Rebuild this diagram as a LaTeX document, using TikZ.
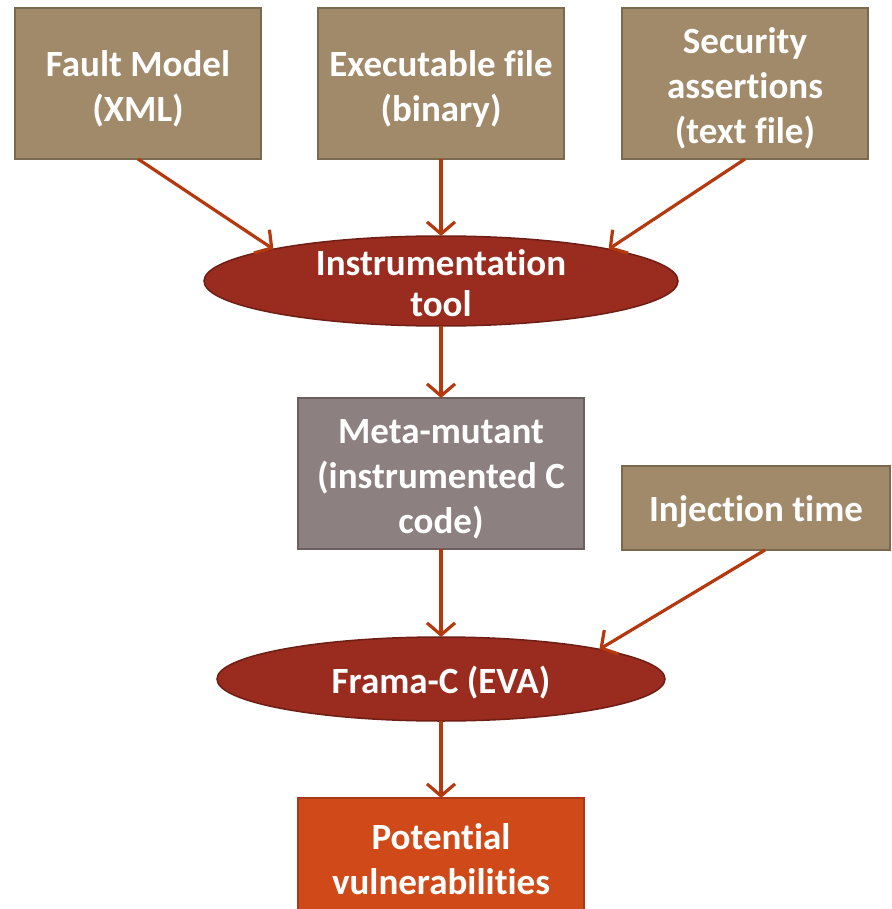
\documentclass[tikz,border=0pt]{standalone}
\usepackage{fontspec}
\setmainfont[Ligatures={NoCommon}]{Carlito}
\usetikzlibrary{arrows.meta,shapes.geometric}
\definecolor{tanfill}{HTML}{A08A69}
\definecolor{tanline}{HTML}{7A6A50}
\definecolor{redfill}{HTML}{9A2B1F}
\definecolor{redline}{HTML}{6E1E14}
\definecolor{greyfill}{HTML}{8C8080}
\definecolor{greyline}{HTML}{6B5F5F}
\definecolor{orfill}{HTML}{D04A19}
\definecolor{orline}{HTML}{A8391A}
\definecolor{arrowc}{HTML}{B5390F}
\tikzset{
  shp/.style={inner sep=0pt, outer sep=0pt, line width=1.5pt},
  lbl/.style={text=white, font=\fontsize{37}{45}\bfseries\selectfont, align=center, inner sep=0pt},
  tanbox/.style={shp, rectangle, fill=tanfill, draw=tanline, minimum width=246pt, minimum height=151pt},
  ellbox/.style={shp, ellipse, fill=redfill, draw=redline},
  conn/.style={draw=arrowc, line width=3.2pt, -{Straight Barb[length=12pt,width=28pt,line width=3.2pt]}}
}
\begin{document}
\begin{tikzpicture}[x=1pt,y=-1pt]
\clip (0,0) rectangle (891,909);
\node[tanbox] (fm) at (138,83.5) {};
\node[tanbox] (ex) at (441,83.5) {};
\node[tanbox] (sec) at (745,83.5) {};
\node[ellbox, minimum width=474pt, minimum height=90pt] (ins) at (441,281) {};
\node[shp, rectangle, fill=greyfill, draw=greyline, minimum width=286pt, minimum height=151pt] (meta) at (441,473.5) {};
\node[tanbox, minimum width=268pt, minimum height=84pt] (inj) at (756,508) {};
\node[ellbox, minimum width=448pt, minimum height=84pt] (fr) at (441,679) {};
\node[shp, rectangle, fill=orfill, draw=orline, minimum width=286pt, minimum height=151pt] (pot) at (441,873.5) {};
\node[lbl] (fmt) at ([yshift=-5pt]fm.center) {Fault Model\\(XML)};
\node[lbl] (ext) at ([yshift=-5pt]ex.center) {Executable file\\(binary)};
\node[lbl] (sect) at ([yshift=-5pt]sec.center) {Security\\assertions\\(text file)};
\node[lbl, font=\fontsize{37}{41}\bfseries\selectfont] (inst) at ([yshift=-2pt]ins.center) {Instrumentation\\tool};
\node[lbl] (metat) at ([yshift=-6pt]meta.center) {Meta-mutant\\(instrumented C\\code)};
\node[lbl] (injt) at ([yshift=-4pt]inj.center) {Injection time};
\node[lbl] (frt) at ([yshift=-4pt]fr.center) {Frama-C (EVA)};
\node[lbl] (pott) at (441,859.5) {Potential\\vulnerabilities};
\draw[conn] (fm.south) -- (ins.north west);
\draw[conn] (ex.south) -- (ins.north);
\draw[conn] (sec.south) -- (ins.north east);
\draw[conn] (ins.south) -- (meta.north);
\draw[conn] (meta.south) -- (fr.north);
\draw[conn] ([xshift=9pt]inj.south) -- (fr.north east);
\draw[conn] (fr.south) -- (pot.north);
\end{tikzpicture}
\end{document}
